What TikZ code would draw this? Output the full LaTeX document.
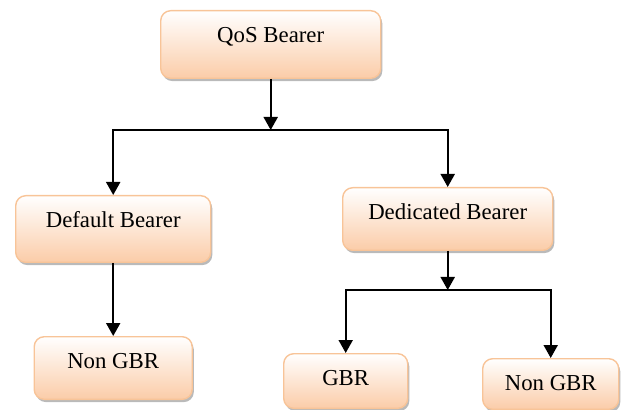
\documentclass[tikz,border=0pt]{standalone}
\usepackage{fontspec}
\setmainfont{Liberation Serif}
\usepackage{xcolor}
\definecolor{peach}{RGB}{251,204,168}
\definecolor{peachline}{RGB}{248,196,152}
\usepackage{tikz}
\usetikzlibrary{positioning,shadows,arrows.meta}

\begin{document}
\begin{tikzpicture}[x=0.5pt, y=-0.5pt, node distance = 36.5pt,
    box/.style={
        rectangle, rounded corners = 5pt, line width = 0.7pt,
        draw = peachline, top color = white, bottom color = peach,
        inner sep = 0pt, text height = 16pt,
        drop shadow = {shadow xshift = 0.8pt, shadow yshift = -1.4pt,
            opacity = 0.45, fill = black!60},
        font = \fontsize{11.4}{13}\selectfont},
    arrow/.style={line width = 1pt, draw = black,
        -{Triangle[width = 7pt, length = 6.5pt]}}]
    \useasboundingbox (0,0) rectangle (624,410);
    % boxes
    \node (qos) [box, minimum width = 110pt, text depth = 17.8pt,
        anchor = north west] at (160,10) {QoS Bearer};
    \node (default) [box, minimum width = 97.5pt, text depth = 17.3pt,
        anchor = north west] at (15,195) {Default Bearer};
    \node (nongbrL) [box, minimum width = 79pt, text depth = 15.3pt,
        below = of default] {Non GBR};
    \node (dedicated) [box, minimum width = 105pt, text depth = 15.3pt,
        anchor = north west] at (342,187) {Dedicated Bearer};
    \node (gbr) [box, minimum width = 62pt, text depth = 11.3pt,
        anchor = north west] at (283,353) {GBR};
    \node (nongbrR) [box, minimum width = 68pt, text depth = 9.3pt,
        anchor = north west] at (482,358) {Non GBR};
    % connectors
    \coordinate (split) at (0,130);
    \coordinate (subsplit) at (0,290);
    \draw[arrow] (qos.south) -- (qos.south |- split);
    \draw[arrow] (qos.south |- split) -| (default.north);
    \draw[arrow] (qos.south |- split) -| (dedicated.north);
    \draw[arrow] (default.south) -- (nongbrL.north);
    \draw[arrow] (dedicated.south) -- (dedicated.south |- subsplit);
    \draw[arrow] (dedicated.south |- subsplit) -| (gbr.north);
    \draw[arrow] (dedicated.south |- subsplit) -| (nongbrR.north);
\end{tikzpicture}
\end{document}
